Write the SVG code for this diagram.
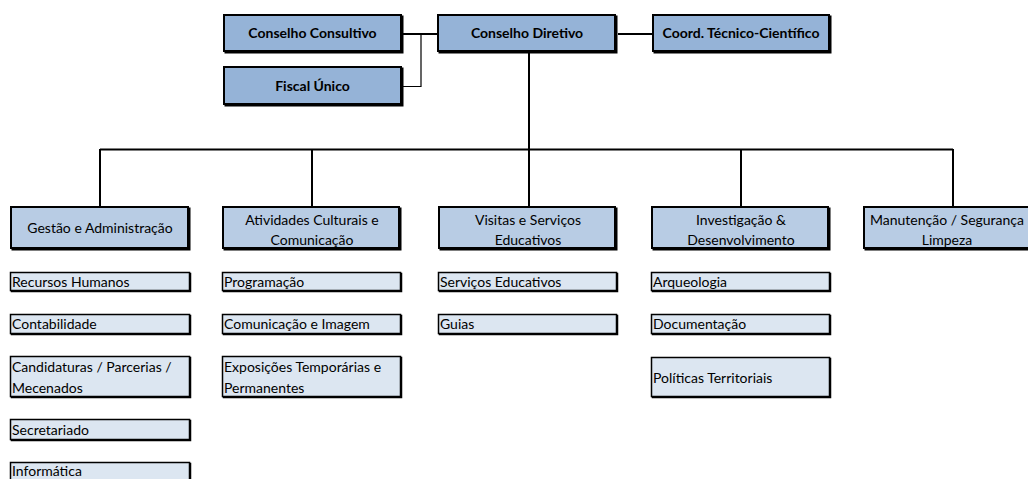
<svg xmlns="http://www.w3.org/2000/svg" width="1028" height="479" viewBox="0 0 1028 479">
<style>
  .sh{fill:#000;stroke:#000;stroke-width:2}
  .top{fill:#95B3D7;stroke:#000;stroke-width:2}
  .mid{fill:#B8CCE4;stroke:#000;stroke-width:2}
  .sub{fill:#DCE6F1;stroke:#000;stroke-width:1.5}
  .shs{fill:#000;stroke:#000;stroke-width:1.5}
  text{font-family:Lato,"Open Sans","Liberation Sans",sans-serif;font-size:14px;fill:#000}
  .b{font-weight:bold;text-anchor:middle}
  .c{text-anchor:middle}
  .conn{fill:none;stroke:#000;stroke-width:2}
  .thin{fill:none;stroke:#000;stroke-width:1.2}
</style>
<rect width="1028" height="479" fill="#fff"/>
<g id="connectors">
  <line class="conn" x1="403" y1="34" x2="437" y2="34"/>
  <polyline class="thin" points="421,34 421,86.5 403,86.5"/>
  <line class="conn" x1="618" y1="34" x2="652" y2="34"/>
  <line class="conn" x1="529" y1="53" x2="529" y2="206"/>
  <line class="conn" x1="100" y1="149.5" x2="953" y2="149.5" stroke="#222"/>
  <line class="conn" x1="100" y1="149" x2="100" y2="206"/>
  <line class="conn" x1="312" y1="149" x2="312" y2="206"/>
  <line class="conn" x1="741" y1="149" x2="741" y2="206"/>
  <line class="conn" x1="953" y1="149" x2="953" y2="206"/>
</g>
<g id="conselho-consultivo">
  <rect class="sh" x="225.5" y="16.5" width="177" height="36"/>
  <rect class="top" x="224" y="15" width="177" height="36"/>
  <text class="b" x="312.5" y="38">Conselho Consultivo</text>
</g>
<g id="fiscal-unico">
  <rect class="sh" x="225.5" y="68.5" width="177" height="37"/>
  <rect class="top" x="224" y="67" width="177" height="37"/>
  <text class="b" x="312.5" y="91">Fiscal Único</text>
</g>
<g id="conselho-diretivo">
  <rect class="sh" x="439.5" y="16.5" width="177" height="36"/>
  <rect class="top" x="438" y="15" width="177" height="36"/>
  <text class="b" x="527" y="38">Conselho Diretivo</text>
</g>
<g id="coord-tecnico">
  <rect class="sh" x="654.5" y="16.5" width="176" height="36"/>
  <rect class="top" x="653" y="15" width="176" height="36"/>
  <text class="b" x="741" y="38">Coord. Técnico-Científico</text>
</g>
<g id="gestao">
  <rect class="sh" x="12.5" y="208.5" width="177" height="41"/>
  <rect class="mid" x="11" y="207" width="177" height="41"/>
  <text class="c" x="100" y="233">Gestão e Administração</text>
</g>
<g id="atividades">
  <rect class="sh" x="224.5" y="208.5" width="176" height="41"/>
  <rect class="mid" x="223" y="207" width="176" height="41"/>
  <text class="c" x="312" y="225">Atividades Culturais e</text>
  <text class="c" x="312" y="245">Comunicação</text>
</g>
<g id="visitas">
  <rect class="sh" x="440.5" y="208.5" width="176" height="41"/>
  <rect class="mid" x="439" y="207" width="176" height="41"/>
  <text class="c" x="528" y="225">Visitas e Serviços</text>
  <text class="c" x="528" y="245">Educativos</text>
</g>
<g id="investigacao">
  <rect class="sh" x="653.5" y="208.5" width="176" height="41"/>
  <rect class="mid" x="652" y="207" width="176" height="41"/>
  <text class="c" x="741" y="225">Investigação &amp;</text>
  <text class="c" x="741" y="245">Desenvolvimento</text>
</g>
<g id="manutencao">
  <rect class="sh" x="865.5" y="208.5" width="168" height="41"/>
  <rect class="mid" x="864" y="207" width="168" height="41"/>
  <text class="c" x="947" y="225">Manutenção / Segurança</text>
  <text class="c" x="947" y="245">Limpeza</text>
</g>
<g id="recursos-humanos">
  <rect class="shs" x="11.5" y="273.5" width="179" height="18"/>
  <rect class="sub" x="10.5" y="272.5" width="179" height="18"/>
  <text x="12" y="287">Recursos Humanos</text>
</g>
<g id="contabilidade">
  <rect class="shs" x="11.5" y="315.5" width="179" height="19"/>
  <rect class="sub" x="10.5" y="314.5" width="179" height="19"/>
  <text x="12" y="329">Contabilidade</text>
</g>
<g id="candidaturas">
  <rect class="shs" x="11.5" y="357.5" width="179" height="40"/>
  <rect class="sub" x="10.5" y="356.5" width="179" height="40"/>
  <text x="12" y="372">Candidaturas / Parcerias /</text>
  <text x="12" y="393">Mecenados</text>
</g>
<g id="secretariado">
  <rect class="shs" x="11.5" y="420.5" width="179" height="20"/>
  <rect class="sub" x="10.5" y="419.5" width="179" height="20"/>
  <text x="12" y="435">Secretariado</text>
</g>
<g id="informatica">
  <rect class="shs" x="11.5" y="463.5" width="179" height="20"/>
  <rect class="sub" x="10.5" y="462.5" width="179" height="20"/>
  <text x="12" y="476">Informática</text>
</g>
<g id="programacao">
  <rect class="shs" x="223.5" y="273.5" width="178" height="18"/>
  <rect class="sub" x="222.5" y="272.5" width="178" height="18"/>
  <text x="224" y="287">Programação</text>
</g>
<g id="comunicacao-imagem">
  <rect class="shs" x="223.5" y="315.5" width="178" height="19"/>
  <rect class="sub" x="222.5" y="314.5" width="178" height="19"/>
  <text x="224" y="329">Comunicação e Imagem</text>
</g>
<g id="exposicoes">
  <rect class="shs" x="223.5" y="357.5" width="178" height="40"/>
  <rect class="sub" x="222.5" y="356.5" width="178" height="40"/>
  <text x="224" y="372">Exposições Temporárias e</text>
  <text x="224" y="393">Permanentes</text>
</g>
<g id="servicos-educativos">
  <rect class="shs" x="439.5" y="273.5" width="178" height="18"/>
  <rect class="sub" x="438.5" y="272.5" width="178" height="18"/>
  <text x="440" y="287">Serviços Educativos</text>
</g>
<g id="guias">
  <rect class="shs" x="439.5" y="315.5" width="178" height="19"/>
  <rect class="sub" x="438.5" y="314.5" width="178" height="19"/>
  <text x="440" y="329">Guias</text>
</g>
<g id="arqueologia">
  <rect class="shs" x="652.5" y="273.5" width="178" height="18"/>
  <rect class="sub" x="651.5" y="272.5" width="178" height="18"/>
  <text x="653" y="287">Arqueologia</text>
</g>
<g id="documentacao">
  <rect class="shs" x="652.5" y="315.5" width="178" height="19"/>
  <rect class="sub" x="651.5" y="314.5" width="178" height="19"/>
  <text x="653" y="329">Documentação</text>
</g>
<g id="politicas">
  <rect class="shs" x="652.5" y="358.5" width="178" height="39"/>
  <rect class="sub" x="651.5" y="357.5" width="178" height="39"/>
  <text x="653" y="383">Políticas Territoriais</text>
</g>
</svg>
